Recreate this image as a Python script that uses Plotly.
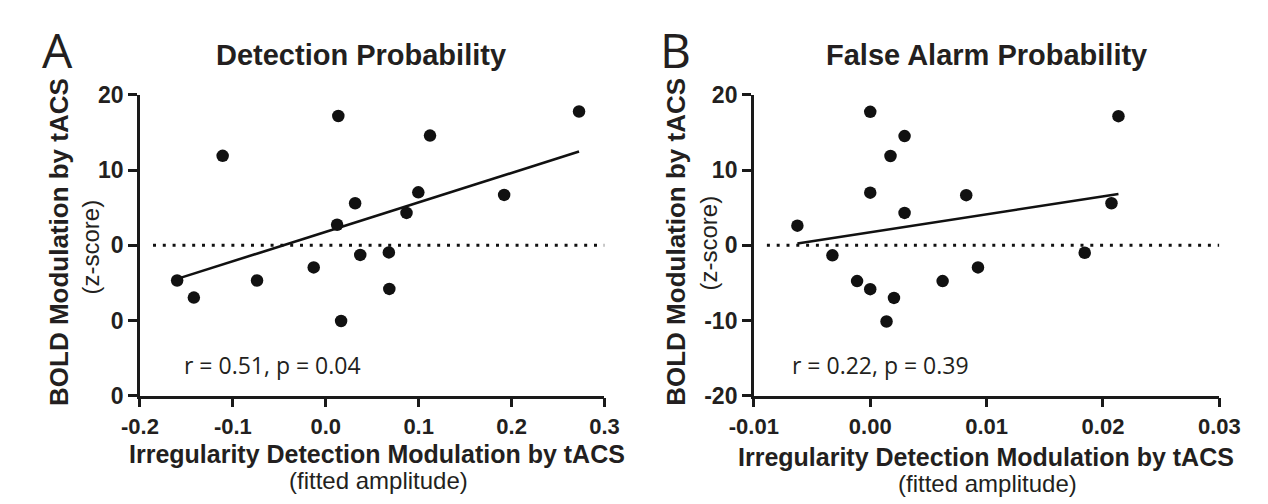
import numpy as np
import plotly.graph_objects as go

# ---------------- data ----------------
det_x = [-0.160, -0.142, -0.111, -0.074, -0.013, 0.0135, 0.0122, 0.0165, 0.0316,
         0.0371, 0.0679, 0.0684, 0.0869, 0.0996, 0.1122, 0.192, 0.2726]
det_y = [-4.68, -6.96, 11.9, -4.68, -2.94, 17.2, 2.74, -10.07, 5.6,
         -1.28, -0.95, -5.8, 4.31, 7.05, 14.6, 6.7, 17.8]

fa_x = [-0.00626, -0.00325, -0.00113, 0.0, 0.0, 0.0, 0.0014, 0.00174, 0.00204,
        0.00295, 0.00295, 0.00622, 0.00825, 0.00926, 0.01843, 0.02073, 0.02133]
fa_y = [2.61, -1.33, -4.76, 17.76, 7.0, -5.84, -10.14, 11.88, -7.0,
        14.53, 4.31, -4.76, 6.67, -2.94, -0.99, 5.59, 17.18]

det_xticks = [-0.2, -0.1, 0.0, 0.1, 0.2, 0.3]
det_xticklabels = ["-0.2", "-0.1", "0.0", "0.1", "0.2", "0.3"]
fa_xticks = [-0.01, 0.0, 0.01, 0.02, 0.03]
fa_xticklabels = ["-0.01", "0.00", "0.01", "0.02", "0.03"]
yticks = [-20, -10, 0, 10, 20]
det_yticklabels = ["0", "0", "0", "10", "20"]
fa_yticklabels = ["-20", "-10", "0", "10", "20"]

titles = ["Detection Probability", "False Alarm Probability"]
panel_letters = ["A", "B"]
stats = ["r = 0.51, p = 0.04", "r = 0.22, p = 0.39"]
ytitle_main = "BOLD Modulation by tACS"
ytitle_sub = "(z-score)"
xtitle_main = "Irregularity Detection Modulation by tACS"
xtitle_sub = "(fitted amplitude)"

# ---------------- figure ----------------
W, H = 1268, 504
TXT = "#231f20"
BOLD = dict(family="Liberation Sans, Arial, sans-serif", weight="bold", color=TXT)
REG = dict(family="Liberation Sans, Arial, sans-serif", color=TXT)

fig = go.Figure()


def px(x):
    return x / W


def py(y):
    return 1 - y / H


panels = [
    dict(x=det_x, y=det_y, xr=[-0.2, 0.3], xt=det_xticks, xtl=det_xticklabels,
         ytl=det_yticklabels, left=111, right=593, xa="x", ya="y"),
    dict(x=fa_x, y=fa_y, xr=[-0.01, 0.03], xt=fa_xticks, xtl=fa_xticklabels,
         ytl=fa_yticklabels, left=748, right=1231, xa="x2", ya="y2"),
]
top, bottom = 78, 395

for i, p in enumerate(panels):
    xs = np.array(p["x"])
    ys = np.array(p["y"])
    slope, icpt = np.polyfit(xs, ys, 1)
    lx = np.array([xs.min(), xs.max()])
    # zero dotted line
    span = p["xr"][1] - p["xr"][0]
    fig.add_trace(go.Scatter(x=[p["xr"][0] + span * 0.028, p["xr"][1]], y=[0, 0],
                             mode="lines", xaxis=p["xa"], yaxis=p["ya"],
                             line=dict(color="#111", width=3, dash="3px,6.8px"),
                             hoverinfo="skip", showlegend=False))
    fig.add_trace(go.Scatter(x=lx, y=slope * lx + icpt, mode="lines",
                             xaxis=p["xa"], yaxis=p["ya"],
                             line=dict(color="#111", width=2.6),
                             showlegend=False))
    fig.add_trace(go.Scatter(x=xs, y=ys, mode="markers", xaxis=p["xa"], yaxis=p["ya"],
                             marker=dict(color="#111", size=12.5, line=dict(width=0)),
                             showlegend=False))

    axcommon = dict(showgrid=False, zeroline=False, showline=True, linecolor="#1a1a1a",
                    linewidth=2.6, ticks="outside", ticklen=9, tickwidth=2.6,
                    tickcolor="#1a1a1a")
    xkey = "xaxis" if i == 0 else "xaxis2"
    ykey = "yaxis" if i == 0 else "yaxis2"
    fig.update_layout(**{
        xkey: dict(domain=[px(p["left"]), px(p["right"])], range=p["xr"],
                   tickvals=p["xt"], ticktext=p["xtl"], anchor=p["ya"],
                   tickfont=dict(size=22, **BOLD), **axcommon),
        ykey: dict(domain=[py(bottom), py(top)], range=[-20, 20],
                   tickvals=yticks, ticktext=p["ytl"], anchor=p["xa"],
                   tickfont=dict(size=23, **BOLD), **axcommon),
    })

ann = []
# panel letters
for (x, y, t) in [(25, 30, "A"), (667, 30, "B")]:
    ann.append(dict(x=px(x), y=py(y), text=t, font=dict(family="Open Sans", size=48, color=TXT)))
# titles
for (x, y, t) in [(340, 36, titles[0]), (989.5, 36, titles[1])]:
    ann.append(dict(x=px(x), y=py(y), text=t, font=dict(size=29, **BOLD)))
# x titles
for (x, y) in [(357, 457), (989, 460)]:
    ann.append(dict(x=px(x), y=py(y), text=xtitle_main, font=dict(size=25, **BOLD)))
for (x, y) in [(358, 485), (990, 488)]:
    ann.append(dict(x=px(x), y=py(y), text=xtitle_sub, font=dict(size=24, **REG)))
# y titles
for (x, y) in [(27, 233), (667, 233)]:
    ann.append(dict(x=px(x), y=py(y), text=ytitle_main, textangle=-90,
                    font=dict(size=26, **BOLD)))
for (x, y) in [(60, 238), (701, 234)]:
    ann.append(dict(x=px(x), y=py(y), text=ytitle_sub, textangle=-90,
                    font=dict(size=24, **REG)))
# stats
for (x, y, t) in [(248, 363, stats[0]), (879, 363, stats[1])]:
    ann.append(dict(x=px(x), y=py(y), text=t, font=dict(family="Open Sans", size=23, color=TXT)))

for a in ann:
    a.update(xref="paper", yref="paper", xanchor="center", yanchor="middle",
             showarrow=False)

fig.update_layout(width=W, height=H, margin=dict(l=0, r=0, t=0, b=0),
                  paper_bgcolor="white", plot_bgcolor="white",
                  annotations=ann, showlegend=False)

fig.write_html("out.html")
